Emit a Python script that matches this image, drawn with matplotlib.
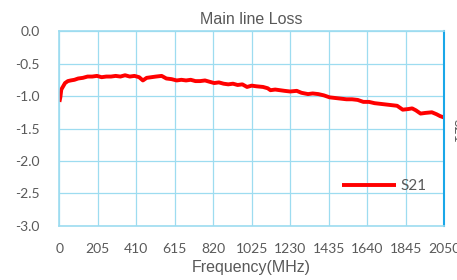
import numpy as np
import matplotlib
matplotlib.use("Agg")
import matplotlib.pyplot as plt

plt.rcParams['axes.unicode_minus'] = False

# data
freq = [0, 5, 10, 20, 30, 45, 60, 80, 100, 125, 150, 175, 200, 225, 250, 275,
        300, 325, 350, 375, 400, 425, 445, 465, 490, 515, 545, 570, 598, 625,
        650, 675, 700, 725, 750, 776, 800, 825, 850, 875, 900, 925, 950, 975,
        1000, 1025, 1050, 1085, 1110, 1125, 1150, 1175, 1200, 1230, 1265, 1290,
        1325, 1350, 1380, 1410, 1440, 1470, 1500, 1530, 1560, 1590, 1620, 1650,
        1680, 1710, 1740, 1770, 1800, 1830, 1860, 1880, 1900, 1925, 1950, 1985,
        2010, 2030, 2050]
s21 = [-1.09, -1.02, -0.90, -0.85, -0.80, -0.77, -0.76, -0.75, -0.73, -0.72,
       -0.70, -0.70, -0.69, -0.71, -0.70, -0.70, -0.69, -0.70, -0.68, -0.70,
       -0.69, -0.71, -0.76, -0.72, -0.71, -0.70, -0.69, -0.73, -0.74, -0.76,
       -0.75, -0.76, -0.75, -0.77, -0.77, -0.76, -0.78, -0.80, -0.79, -0.81,
       -0.82, -0.81, -0.83, -0.82, -0.86, -0.84, -0.85, -0.86, -0.88, -0.91,
       -0.90, -0.91, -0.92, -0.93, -0.92, -0.95, -0.97, -0.96, -0.97, -0.99,
       -1.02, -1.03, -1.04, -1.05, -1.05, -1.06, -1.09, -1.09, -1.11, -1.12,
       -1.13, -1.14, -1.15, -1.21, -1.20, -1.19, -1.22, -1.27, -1.26, -1.25,
       -1.28, -1.31, -1.33]
xticks = list(range(0, 2051, 205))
yticks = [0.0, -0.5, -1.0, -1.5, -2.0, -2.5, -3.0]

gray = '#595959'
grid_blue = '#9ddcf0'

fig = plt.figure(figsize=(4.57, 2.80), dpi=100)
ax = fig.add_axes([0.130, 0.193, 0.8416, 0.696])

ax.plot(freq, s21, color='#ff0000', lw=2.8, label='S21', solid_capstyle='butt')

ax.set_xlim(0, 2050)
ax.set_ylim(-3.0, 0.0)
ax.set_xticks(xticks)
ax.set_yticks(yticks)
ax.set_xticklabels([str(t) for t in xticks])
ax.set_yticklabels(['%.1f' % t for t in yticks])
ax.grid(True, color=grid_blue, lw=0.9)
ax.set_axisbelow(True)
ax.tick_params(length=0, labelcolor=gray, labelsize=10)
ax.tick_params(axis='x', pad=12)
ax.tick_params(axis='y', pad=14)
for lbl in ax.get_xticklabels() + ax.get_yticklabels():
    lbl.set_family('Lato')

for s in ['left', 'top', 'bottom']:
    ax.spines[s].set_color(grid_blue)
    ax.spines[s].set_linewidth(1.2)
ax.spines['right'].set_color('#1aa7e8')
ax.spines['right'].set_linewidth(1.5)

ax.set_title('Main line Loss', color=gray, fontsize=11.5,
             family='Liberation Sans', pad=5)
ax.set_xlabel('Frequency(MHz)', color=gray, fontsize=11.5,
              family='Liberation Sans', labelpad=4)

ax.legend(loc='center left', bbox_to_anchor=(0.72, 0.205), frameon=False,
          handlelength=3.5, handletextpad=0.3, borderaxespad=0,
          prop={'family': 'Lato', 'size': 11}, labelcolor=gray)

# clipped secondary axis title at the right edge
fig.text(0.988, 1 - 131 / 280, 'S21', rotation=270, color=gray,
         fontsize=10, family='Lato', ha='left', va='center')

fig.savefig('out.png', dpi=100)
